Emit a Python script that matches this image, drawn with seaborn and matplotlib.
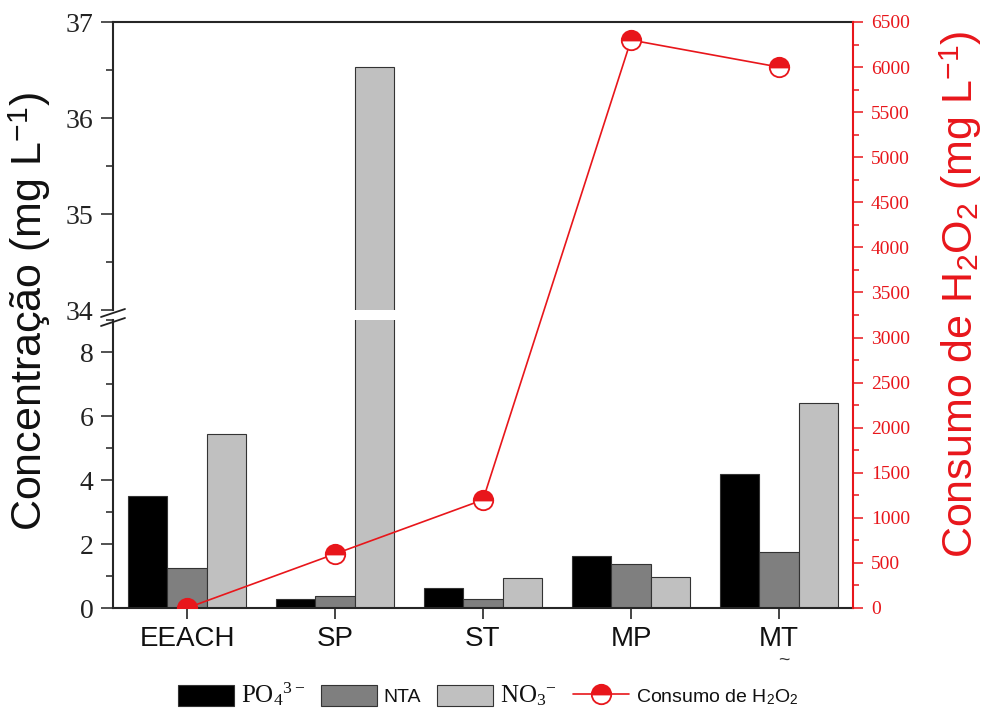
import matplotlib
matplotlib.use("Agg")
import matplotlib.pyplot as plt
import numpy as np
import pandas as pd
import seaborn as sns
from matplotlib.patches import Patch
from matplotlib.lines import Line2D
from matplotlib.ticker import MultipleLocator

# --- data -------------------------------------------------------------
amostras = ["EEACH", "SP", "ST", "MP", "MT"]
fosfato = [3.50, 0.27, 0.62, 1.62, 4.20]      # PO4 3-
nta = [1.25, 0.38, 0.27, 1.38, 1.75]          # NTA
nitrato = [5.45, 36.53, 0.95, 0.98, 6.40]     # NO3 -
consumo_h2o2 = [0, 600, 1200, 6300, 6000]     # mg/L
ions = ["PO4", "NTA", "NO3"]
legend_labels = [r"PO$_4$$^{3-}$", "NTA", r"NO$_3$$^{-}$",
                 r"Consumo de H$_\mathsf{2}$O$_\mathsf{2}$"]

df = pd.DataFrame({
    "Amostra": amostras * 3,
    "Ion": [ions[0]] * 5 + [ions[1]] * 5 + [ions[2]] * 5,
    "Conc": fosfato + nta + nitrato,
})
df_h2o2 = pd.DataFrame({"Amostra": amostras, "H2O2": consumo_h2o2})

# --- style ------------------------------------------------------------
sns.set_theme(style="ticks")
plt.rcParams.update({
    "font.family": ["Liberation Sans", "DejaVu Sans"],
    "mathtext.fontset": "custom",
    "mathtext.rm": "Liberation Serif",
    "mathtext.it": "Liberation Serif:italic",
    "mathtext.sf": "Liberation Sans",
    "axes.linewidth": 1.5,
})

RED = "#e8161b"
bar_colors = ["#000000", "#7f7f7f", "#c0c0c0"]
tick_font = {"family": "Liberation Serif", "size": 20}

W, H = 988, 713
fig = plt.figure(figsize=(W / 100, H / 100), dpi=100, facecolor="white")

x0, x1 = 113, 853
def frac(top_px, bottom_px):
    return [x0 / W, 1 - bottom_px / H, (x1 - x0) / W, (bottom_px - top_px) / H]

ax_hi = fig.add_axes(frac(22, 310))
ax_lo = fig.add_axes(frac(320, 608))
ax_r = fig.add_axes(frac(22, 608))

for ax, lim in ((ax_lo, (0, 9)), (ax_hi, (34, 37))):
    sns.barplot(data=df, x="Amostra", y="Conc", hue="Ion", palette=bar_colors,
                width=0.8, errorbar=None, edgecolor="#333333", linewidth=0.8,
                legend=False, ax=ax)
    ax.set_ylim(*lim)
    ax.set_xlim(-0.5, 4.5)
    ax.set_xlabel("")
    ax.set_ylabel("")
    ax.spines["right"].set_visible(False)
    ax.tick_params(axis="y", which="major", direction="out", length=9, width=1.1,
                   pad=5, colors="#222222", labelsize=20)
    ax.tick_params(axis="y", which="minor", direction="out", length=5, width=1.1,
                   colors="#222222")

ax_lo.yaxis.set_major_locator(MultipleLocator(2))
ax_lo.yaxis.set_minor_locator(MultipleLocator(1))
ax_lo.spines["top"].set_visible(False)
ax_lo.tick_params(axis="x", direction="out", length=8, width=1.1, pad=5,
                  labelsize=20, colors="#111111")

ax_hi.yaxis.set_major_locator(MultipleLocator(1))
ax_hi.yaxis.set_minor_locator(MultipleLocator(0.5))
ax_hi.spines["bottom"].set_visible(False)
ax_hi.tick_params(axis="x", which="both", bottom=False, labelbottom=False)

for ax, lim in ((ax_lo, (0, 9)), (ax_hi, (34, 37))):
    ticks = [t for t in ax.get_yticks() if lim[0] <= t <= lim[1]]
    ax.set_yticks(ticks)
    ax.set_yticklabels([f"{v:g}" for v in ticks], fontdict=tick_font)
    ax.set_ylim(*lim)

# --- H2O2 consumption on the right axis --------------------------------
sns.lineplot(data=df_h2o2, x="Amostra", y="H2O2", sort=False, color=RED,
             linewidth=1.2, marker="o", markersize=14, fillstyle="top",
             markerfacecoloralt="white", markeredgecolor=RED,
             markeredgewidth=1.3, ax=ax_r)
ax_r.set_xlim(-0.5, 4.5)
ax_r.set_ylim(0, 6500)
ax_r.patch.set_visible(False)
for s in ("left", "top", "bottom"):
    ax_r.spines[s].set_visible(False)
ax_r.spines["right"].set_color(RED)
ax_r.spines["right"].set_linewidth(1.5)
ax_r.xaxis.set_visible(False)
ax_r.yaxis.tick_right()
ax_r.yaxis.set_label_position("right")
ax_r.yaxis.set_minor_locator(MultipleLocator(250))
ax_r.tick_params(axis="y", which="major", direction="out", length=7, width=1.1,
                 colors=RED, pad=6)
ax_r.tick_params(axis="y", which="minor", direction="out", length=4, width=1.1,
                 colors=RED)
r_ticks = np.arange(0, 6501, 500)
ax_r.set_yticks(r_ticks)
ax_r.set_yticklabels([f"{v:d}" for v in r_ticks],
                     fontdict={"family": "Liberation Serif", "size": 14})
ax_r.set_ylim(0, 6500)
ax_r.set_ylabel(r"Consumo de H$_\mathsf{2}$O$_\mathsf{2}$ (mg L$^\mathsf{-1}$)",
                fontsize=31, color=RED)
ax_r.yaxis.set_label_coords(1.1135, 0.535)

# left axis title spanning both panels
fig.text(30 / W, 1 - 312 / H, r"Concentração (mg L$^\mathsf{-1}$)",
         rotation=90, ha="center", va="center", fontsize=31, color="#111111")

# small mark under the MT label
fig.text(784 / W, 1 - 660 / H, "~", ha="center", va="center", fontsize=14,
         color="#333333")

# axis break marks on the left spine
for ypx in (313, 322):
    fig.add_artist(Line2D([101 / W, 125 / W], [1 - (ypx + 4) / H, 1 - (ypx - 4) / H],
                          transform=fig.transFigure, color="#222222", lw=1.3))

# --- legend -------------------------------------------------------------
handles = [Patch(facecolor=c, edgecolor="#333333", linewidth=0.8) for c in bar_colors]
handles.append(Line2D([], [], color=RED, lw=1.2, marker="o", markersize=14,
                      fillstyle="top", markerfacecoloralt="white",
                      markeredgecolor=RED, markeredgewidth=1.3))
leg = fig.legend(handles, legend_labels, loc="center", ncol=4, frameon=False,
                 bbox_to_anchor=(488 / W, 1 - 694 / H), fontsize=14,
                 handlelength=2.9, handleheight=1.3, handletextpad=0.35,
                 columnspacing=0.8)
for i, t in enumerate(leg.get_texts()):
    if i in (0, 2):
        t.set_fontfamily("Liberation Serif")
        t.set_fontsize(18)
    else:
        t.set_fontfamily("Liberation Sans")
        t.set_fontsize(14)
    t.set_color("#111111")

fig.savefig("out.png", dpi=100, facecolor="white")
